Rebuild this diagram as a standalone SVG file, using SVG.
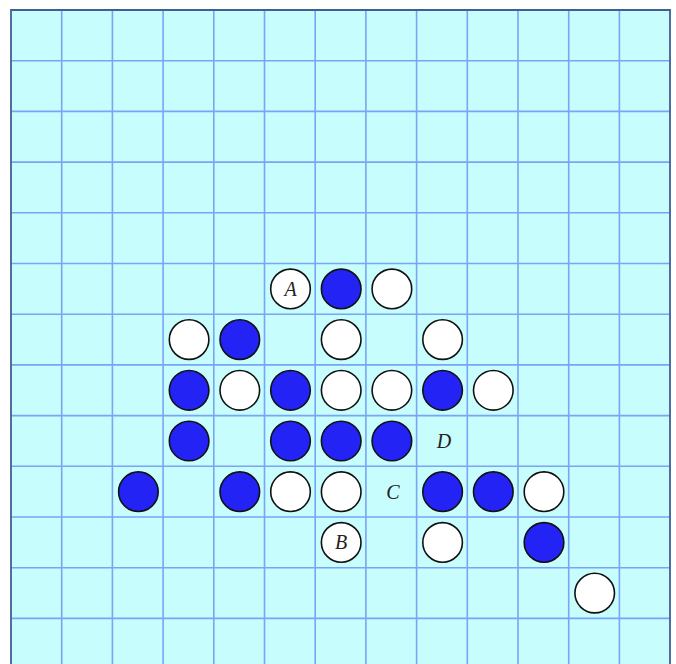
<svg xmlns="http://www.w3.org/2000/svg" width="676" height="664" viewBox="0 0 676 664">
<style>
.g{stroke:#7aa4f6;stroke-width:1.6;fill:none}
.w{fill:#ffffff;stroke:#111;stroke-width:1.6}
.b{fill:#2323f5;stroke:#111;stroke-width:1.6}
.t{font-family:"Liberation Serif","DejaVu Serif",serif;font-style:italic;font-size:20px;fill:#222;text-anchor:middle;dominant-baseline:central}
</style>
<rect x="0" y="0" width="676" height="664" fill="#ffffff"/>
<rect x="11" y="10" width="659" height="660" fill="#c7fdfd"/>
<g id="grid">
<path class="g" d="M61.7 10V664M112.4 10V664M163.1 10V664M213.8 10V664M264.5 10V664M315.2 10V664M365.9 10V664M416.6 10V664M467.3 10V664M518 10V664M568.7 10V664M619.4 10V664"/>
<path class="g" d="M11 60.7H670M11 111.4H670M11 162.1H670M11 212.8H670M11 263.5H670M11 314.2H670M11 364.9H670M11 415.6H670M11 466.3H670M11 517H670M11 567.7H670M11 618.4H670"/>
<path d="M11 664V10H670V664" fill="none" stroke="#3f5f96" stroke-width="1.8"/>
</g>
<g id="stones">
<g id="A"><circle class="w" cx="290.5" cy="288.9" r="19.8"/><text class="t" x="290.5" y="288.9">A</text></g>
<circle id="s1" class="b" cx="341.2" cy="288.9" r="19.8"/>
<circle id="s2" class="w" cx="391.9" cy="288.9" r="19.8"/>
<circle id="s3" class="w" cx="189.1" cy="339.6" r="19.8"/>
<circle id="s4" class="b" cx="239.8" cy="339.6" r="19.8"/>
<circle id="s5" class="w" cx="341.2" cy="339.6" r="19.8"/>
<circle id="s6" class="w" cx="442.6" cy="339.6" r="19.8"/>
<circle id="s7" class="b" cx="189.1" cy="390.3" r="19.8"/>
<circle id="s8" class="w" cx="239.8" cy="390.3" r="19.8"/>
<circle id="s9" class="b" cx="290.5" cy="390.3" r="19.8"/>
<circle id="s10" class="w" cx="341.2" cy="390.3" r="19.8"/>
<circle id="s11" class="w" cx="391.9" cy="390.3" r="19.8"/>
<circle id="s12" class="b" cx="442.6" cy="390.3" r="19.8"/>
<circle id="s13" class="w" cx="493.3" cy="390.3" r="19.8"/>
<circle id="s14" class="b" cx="189.1" cy="441" r="19.8"/>
<circle id="s15" class="b" cx="290.5" cy="441" r="19.8"/>
<circle id="s16" class="b" cx="341.2" cy="441" r="19.8"/>
<circle id="s17" class="b" cx="391.9" cy="441" r="19.8"/>
<g id="D"><text class="t" x="444" y="441">D</text></g>
<circle id="s18" class="b" cx="138.4" cy="491.7" r="19.8"/>
<circle id="s19" class="b" cx="239.8" cy="491.7" r="19.8"/>
<circle id="s20" class="w" cx="290.5" cy="491.7" r="19.8"/>
<circle id="s21" class="w" cx="341.2" cy="491.7" r="19.8"/>
<g id="C"><text class="t" x="393" y="491.7">C</text></g>
<circle id="s22" class="b" cx="442.6" cy="491.7" r="19.8"/>
<circle id="s23" class="b" cx="493.3" cy="491.7" r="19.8"/>
<circle id="s24" class="w" cx="544" cy="491.7" r="19.8"/>
<g id="B"><circle class="w" cx="341.2" cy="542.4" r="19.8"/><text class="t" x="341.2" y="542.4">B</text></g>
<circle id="s25" class="w" cx="442.6" cy="542.4" r="19.8"/>
<circle id="s26" class="b" cx="544" cy="542.4" r="19.8"/>
<circle id="s27" class="w" cx="594.7" cy="593.1" r="19.8"/>
</g>
<g id="connectors"/>
</svg>
